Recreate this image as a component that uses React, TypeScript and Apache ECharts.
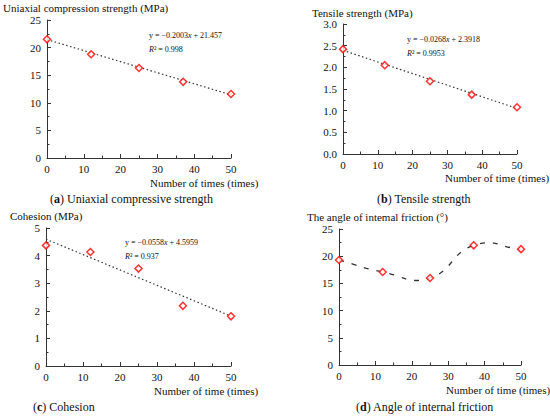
import React, { useEffect, useRef } from "react";
import * as echarts from "echarts";

const times = [0, 12, 25, 37, 50];
const ucsValues = [21.5, 18.8, 16.3, 13.8, 11.6];
const tensileValues = [2.42, 2.05, 1.68, 1.37, 1.08];
const cohesionValues = [4.37, 4.13, 3.53, 2.18, 1.8];
const frictionValues = [19.3, 17.1, 16.0, 22.0, 21.3];

// regression shown on the chart: [slope, intercept]
const ucsFit = [-0.2003, 21.457];
const tensileFit = [-0.0268, 2.3918];
const cohesionFit = [-0.0558, 4.5959];

const ucsEq = ["-0.2003", "21.457", "0.998"];
const tensileEq = ["-0.0268", "2.3918", "0.9953"];
const cohesionEq = ["-0.0558", "4.5959", "0.937"];

const yTitles = [
  "Uniaxial compression strength (MPa)",
  "Tensile strength (MPa)",
  "Cohesion (MPa)",
  "The angle of intemal friction (°)",
];
const xNames = [
  "Number of times (times)",
  "Number of time (times)",
  "Number of time (times)",
  "Number of time (times)",
];
const captionLetters = ["a", "b", "c", "d"];
const captionTexts = [
  " Uniaxial compressive strength",
  " Tensile strength",
  " Cohesion",
  " Angle of internal friction",
];

const FONT = "Liberation Serif";
const AX = "#333";
const TENSION = 0.25;

export default function App() {
  const ref = useRef<HTMLDivElement>(null);
  useEffect(() => {
    if (!ref.current) return;
    const chart = echarts.init(ref.current, null, { renderer: "svg" });

    const grids = [
      { left: 47, top: 20, width: 184, height: 138 },
      { left: 343, top: 24, width: 174, height: 130 },
      { left: 46, top: 228, width: 185, height: 138 },
      { left: 339, top: 229, width: 182, height: 136 },
    ];
    const yRanges = [
      { max: 25, interval: 5, dec: 0 },
      { max: 3, interval: 0.5, dec: 1 },
      { max: 5, interval: 1, dec: 0 },
      { max: 25, interval: 5, dec: 0 },
    ];

    const labelRich = { n: { fontFamily: FONT, fontSize: 11, color: "#111" } };

    const axisCommon = {
      axisLine: { show: true, lineStyle: { color: AX, width: 1 } },
      axisTick: { show: true, inside: true, length: 4, lineStyle: { color: AX } },
      minorTick: { show: true, splitNumber: 2, length: 2.5, lineStyle: { color: AX } },
      splitLine: { show: false },
      minorSplitLine: { show: false },
    };

    const xAxis = grids.map((_, i) => ({
      type: "value",
      gridIndex: i,
      min: 0,
      max: 50,
      interval: 10,
      ...axisCommon,
      axisLabel: {
        color: "#111",
        fontFamily: FONT,
        fontSize: 11,
        margin: 5,
        formatter: (v: number) => `{n|${v}}`,
        rich: labelRich,
      },
    }));
    const yAxis = grids.map((_, i) => ({
      type: "value",
      gridIndex: i,
      min: 0,
      max: yRanges[i].max,
      interval: yRanges[i].interval,
      ...axisCommon,
      axisLabel: {
        color: "#111",
        fontFamily: FONT,
        fontSize: 11,
        margin: 6,
        formatter: (v: number) => `{n|${v.toFixed(yRanges[i].dec)}}`,
        rich: labelRich,
      },
    }));

    const fitLine = (fit: number[], idx: number) => ({
      type: "line",
      xAxisIndex: idx,
      yAxisIndex: idx,
      data: [
        [times[0], fit[1] + fit[0] * times[0]],
        [times[times.length - 1], fit[1] + fit[0] * times[times.length - 1]],
      ],
      symbol: "none",
      lineStyle: { color: "#333", width: 1.2, type: [1.5, 2.5] },
      z: 1,
    });
    const points = (vals: number[], idx: number) => ({
      type: "scatter",
      xAxisIndex: idx,
      yAxisIndex: idx,
      data: times.map((t, k) => [t, vals[k]]),
      symbol: "diamond",
      symbolSize: 7,
      itemStyle: { color: "#fff", borderColor: "#ff0000", borderWidth: 1.5 },
      z: 3,
    });

    // smooth dashed curve through the friction points (cardinal spline in pixel space)
    const smoothCurve = {
      type: "custom",
      xAxisIndex: 3,
      yAxisIndex: 3,
      data: times.map((t, k) => [t, frictionValues[k]]),
      z: 1,
      renderItem: (params: any, api: any) => {
        if (params.dataIndex !== 0) return null;
        const pts = times.map((t, k) => api.coord([t, frictionValues[k]]));
        const n = pts.length;
        const get = (i: number) => {
          if (i < 0) return [2 * pts[0][0] - pts[1][0], 2 * pts[0][1] - pts[1][1]];
          if (i >= n) return [2 * pts[n - 1][0] - pts[n - 2][0], 2 * pts[n - 1][1] - pts[n - 2][1]];
          return pts[i];
        };
        let d = `M${pts[0][0]},${pts[0][1]}`;
        for (let i = 0; i < n - 1; i++) {
          const p0 = get(i - 1);
          const p1 = get(i);
          const p2 = get(i + 1);
          const p3 = get(i + 2);
          const c1 = [p1[0] + (p2[0] - p0[0]) * TENSION, p1[1] + (p2[1] - p0[1]) * TENSION];
          const c2 = [p2[0] - (p3[0] - p1[0]) * TENSION, p2[1] - (p3[1] - p1[1]) * TENSION];
          d += ` C${c1[0]},${c1[1]} ${c2[0]},${c2[1]} ${p2[0]},${p2[1]}`;
        }
        return {
          type: "path",
          shape: { pathData: d },
          style: { stroke: "#333", fill: "none", lineWidth: 1.3, lineDash: [5, 8] },
        };
      },
    };

    const series: any[] = [
      fitLine(ucsFit, 0),
      points(ucsValues, 0),
      fitLine(tensileFit, 1),
      points(tensileValues, 1),
      fitLine(cohesionFit, 2),
      points(cohesionValues, 2),
      smoothCurve,
      points(frictionValues, 3),
    ];

    const richCommon = (size: number) => ({
      n: { fontFamily: FONT, fontSize: size, fill: "#111" },
      b: { fontFamily: FONT, fontSize: size, fontWeight: "bold", fill: "#111" },
      i: { fontFamily: FONT, fontSize: size, fontStyle: "italic", fill: "#111" },
    });

    const txt = (text: string, x: number, y: number, size: number) => ({
      type: "text",
      x,
      y,
      style: {
        text,
        fontFamily: FONT,
        fontSize: size,
        fill: "#111",
        verticalAlign: "middle",
        rich: richCommon(size),
      },
    });

    const eqText = (eq: string[], x: number, y: number) => [
      txt(`{n|y = ${eq[0].replace("-", "\u2212")}}{i|x}{n| + ${eq[1]}}`, x, y, 8),
      txt(`{i|R}{n|² = ${eq[2]}}`, x, y + 14, 8),
    ];

    const yTitlePos = [
      [3, 8],
      [312, 13],
      [10, 216],
      [307, 217],
    ];
    const xNamePos = [
      [150, 183],
      [445, 178],
      [154, 391],
      [446, 390],
    ];
    const captionPos = [
      [50, 199],
      [377, 199],
      [33, 407],
      [356, 407],
    ];

    const graphic: any[] = [];
    for (let i = 0; i < 4; i++) {
      graphic.push(txt(`{n|${yTitles[i]}}`, yTitlePos[i][0], yTitlePos[i][1], 11));
      graphic.push(txt(`{n|${xNames[i]}}`, xNamePos[i][0], xNamePos[i][1], 11));
      graphic.push(
        txt(`{n|(}{b|${captionLetters[i]}}{n|)${captionTexts[i]}}`, captionPos[i][0], captionPos[i][1], 12)
      );
    }
    graphic.push(...eqText(ucsEq, 149, 35));
    graphic.push(...eqText(tensileEq, 407, 39));
    graphic.push(...eqText(cohesionEq, 125, 242));

    chart.setOption({
      animation: false,
      backgroundColor: "#fff",
      grid: grids,
      xAxis,
      yAxis,
      series,
      graphic,
    });
    return () => chart.dispose();
  }, []);

  return (
    <div
      ref={ref}
      style={{ position: "fixed", left: 0, top: 0, width: 550, height: 417, background: "#fff" }}
    />
  );
}
